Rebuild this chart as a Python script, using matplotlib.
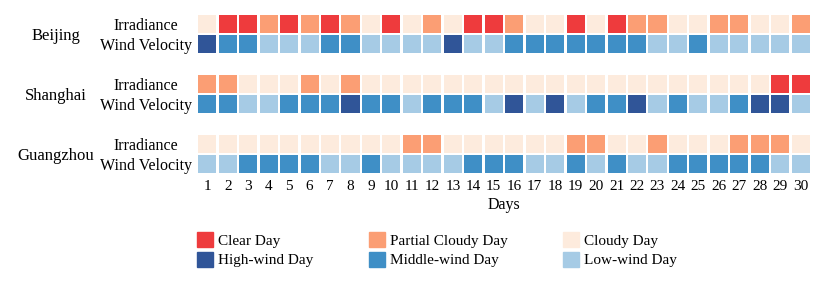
import matplotlib.pyplot as plt
from matplotlib.patches import Patch

plt.rcParams['font.family'] = ['Liberation Serif', 'DejaVu Serif']

days = list(range(1, 31))
cities = ['Beijing', 'Shanghai', 'Guangzhou']

# irradiance: C = clear, P = partial cloudy, O = cloudy
# wind: H = high, M = middle, L = low
beijing_irr = list('OCCPCPCPOCOPOCCPOOCOCPPOOPPOOP')
beijing_wind = list('HMMLLLMMLLLLHLLMMMMMMMLLMLLLLL')
shanghai_irr = list('PPOOOPOPOOOOOOOOOOOOOOOOOOOOCC')
shanghai_wind = list('MMLLMMMHMMLMMMLHLHLMMHLMLLMHHL')
guangzhou_irr = list('OOOOOOOOOOPPOOOOOOPPOOPOOOPPPO')
guangzhou_wind = list('LLMMMMLLMLLLLMMMLLMLMLLMMMMMLL')

irr_colors = {'C': '#ee3b3d', 'P': '#fb9e74', 'O': '#fdebdd'}
wind_colors = {'H': '#305598', 'M': '#3f8fc6', 'L': '#a6cbe5'}

rows = [
    (beijing_irr, irr_colors, 0),
    (beijing_wind, wind_colors, 1),
    (shanghai_irr, irr_colors, 3),
    (shanghai_wind, wind_colors, 4),
    (guangzhou_irr, irr_colors, 6),
    (guangzhou_wind, wind_colors, 7),
]

fig = plt.figure(figsize=(8.31, 2.9), dpi=100)
ax = fig.add_axes([197 / 831, 1 - 174 / 290, 614 / 831, 160 / 290])

for vals, cmap, y in rows:
    ax.bar(days, 0.88, bottom=y - 0.44, width=0.88,
           color=[cmap[v] for v in vals], linewidth=0)

for y, lab in zip([0, 1, 3, 4, 6, 7], ['Irradiance', 'Wind Velocity'] * 3):
    ax.text(-1.99, y + 0.1, lab, ha='center', va='center', fontsize=11.5)
for y, city in zip([0.5, 3.5, 6.5], cities):
    ax.text(-6.39, y + 0.1, city, ha='center', va='center', fontsize=12)

ax.set_xlim(0.5, 30.5)
ax.set_ylim(7.5, -0.5)
ax.set_xticks(days)
ax.set_xticklabels([str(d) for d in days], fontsize=11)
ax.tick_params(axis='x', length=0, pad=4)
ax.set_yticks([])
ax.set_xlabel('Days', fontsize=11.5, labelpad=3)
for s in ax.spines.values():
    s.set_visible(False)

handles = [
    Patch(color=irr_colors['C'], label='Clear Day'),
    Patch(color=wind_colors['H'], label='High-wind Day'),
    Patch(color=irr_colors['P'], label='Partial Cloudy Day'),
    Patch(color=wind_colors['M'], label='Middle-wind Day'),
    Patch(color=irr_colors['O'], label='Cloudy Day'),
    Patch(color=wind_colors['L'], label='Low-wind Day'),
]
fig.legend(handles=handles, ncol=3, frameon=False, fontsize=11,
           loc='upper left', bbox_to_anchor=(197 / 831, 1 - 232 / 290),
           handlelength=1.05, handleheight=1.15, handletextpad=0.35,
           columnspacing=3.6, labelspacing=0.25, borderaxespad=0, borderpad=0)

fig.savefig('out.png', dpi=100)
